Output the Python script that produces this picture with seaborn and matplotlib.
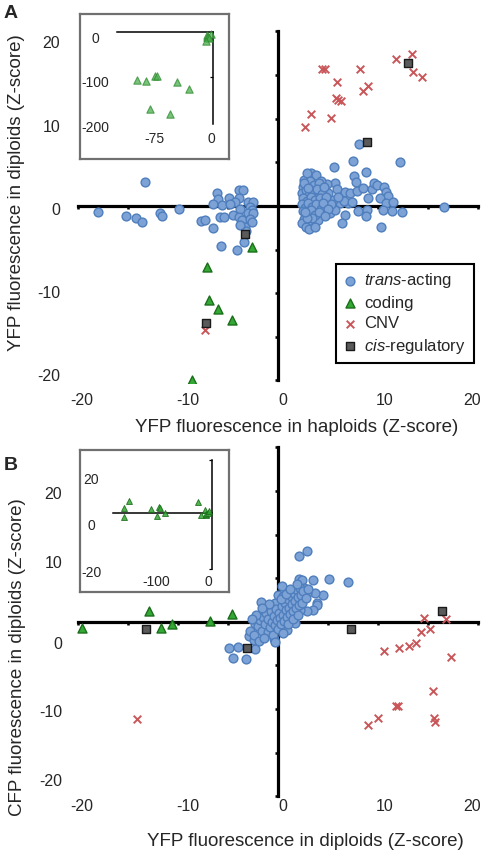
import numpy as np
import matplotlib
matplotlib.use('Agg')
import matplotlib.pyplot as plt
import seaborn as sns

W, H = 485, 857

# ---- panel A: YFP in haploids (x) vs YFP in diploids (y), Z-scores
a_trans = [
    (-18.0, -0.65), (-15.2, -1.2), (-14.2, -1.4), (-13.6, -1.8), (-13.3, 2.8), (-11.8, -0.8), (-11.6, -1.2),
    (-9.9, -0.4), (-7.7, -1.7), (-7.3, -1.6), (-6.5, -2.5), (-6.1, 1.45), (-6.0, 0.8), (-6.5, 0.2),
    (-5.6, 0.1), (-4.9, 0.9), (-5.8, -1.3), (-5.4, -1.3), (-4.5, -1.0), (-3.9, 1.8), (-3.5, 1.8),
    (-3.9, 0.9), (-4.3, 0.4), (-4.8, 0.2), (-3.8, -0.3), (-3.0, 0.5), (-2.5, 0.4), (-2.8, -0.1),
    (-2.6, -0.5), (-3.0, -0.8), (-2.5, -0.8), (-3.9, -1.3), (-3.6, -1.6), (-2.8, -1.5), (-3.3, -2.4),
    (-3.2, -2.9), (-3.4, -4.1), (-5.7, -4.6), (-4.1, -5.0), (-2.6, -1.8), (-3.8, -2.2),
    (5.6, 4.5), (7.5, 5.1), (12.2, 5.0), (3.3, 3.75), (3.8, 3.6), (7.6, 3.4), (8.8, 3.9), (7.8, 2.7),
    (5.7, 2.6), (4.9, 2.5), (5.9, 1.9), (6.7, 1.6), (7.2, 1.45), (7.9, 1.7), (8.5, 2.0), (9.4, 1.9),
    (9.6, 2.6), (9.9, 2.4), (10.6, 2.2), (10.8, 1.6), (11.0, 1.1), (9.0, 0.95), (10.2, 0.9), (10.8, 0.3),
    (11.5, 0.4), (8.0, -0.6), (8.9, -0.5), (8.8, -1.1), (10.5, -0.5), (11.4, -0.6), (12.4, -0.7),
    (6.7, -1.0), (6.4, -1.9), (10.3, -2.4), (7.0, 0.3), (6.2, 0.3), (5.5, 0.7), (5.2, -0.8), (5.7, -0.45),
    (8.1, 7.1), (16.6, -0.1), (6.6, 0.6), (7.4, 0.5), (6.0, 1.0), (4.6, -0.5), (5.0, 1.5), (4.3, 2.9),
    (4.0, -1.6), (5.3, 0.2),
    (2.6, 3.0), (2.9, 3.8), (2.5, 2.2), (2.9, 2.5), (3.2, 2.9), (3.6, 2.4), (4.1, 2.6), (2.4, 1.5),
    (2.8, 1.8), (3.1, 1.3), (3.5, 1.7), (3.9, 1.9), (4.4, 1.4), (2.5, 0.9), (2.9, 0.6), (3.3, 1.0),
    (3.7, 0.7), (4.2, 0.9), (2.4, 0.2), (2.7, -0.2), (3.0, 0.3), (3.4, -0.1), (3.8, 0.2), (4.3, -0.3),
    (2.5, -0.6), (2.9, -0.9), (3.3, -0.5), (3.7, -1.0), (4.1, -0.7), (2.6, -1.5), (3.0, -1.8),
    (3.4, -1.4), (2.4, -2.0), (2.8, -2.4), (3.1, -2.6), (3.7, -2.4), (2.6, 2.6), (3.0, 2.0), (4.6, 2.2),
    (4.8, 1.0), (4.5, 0.3), (5.0, -0.4), (4.7, -1.2), (2.9, -1.4), (2.7, -0.65),
]
# coding mutations: the last eight are only visible in the zoomed-out inset
a_coding = [
    (-2.6, -4.7), (-7.1, -7.0), (-6.9, -10.8), (-6.0, -11.85), (-4.6, -13.1), (-8.6, -19.9),
    (-94.6, -106.7), (-84.0, -108.0), (-72.5, -97.8), (-69.6, -97.8), (-45.4, -111.8),
    (-30.0, -126.7), (-78.8, -171.8), (-53.8, -182.2),
]
a_cnv = [
    (2.7, 9.1), (3.3, 10.55), (5.3, 10.05), (4.4, 15.7), (4.7, 15.7), (5.9, 14.25), (6.0, 12.15),
    (6.3, 12.0), (5.8, 12.4), (8.2, 15.7), (8.5, 13.2), (9.0, 13.8), (11.8, 16.8), (13.4, 17.4),
    (13.5, 15.3), (14.4, 14.75), (-7.3, -14.2),
]
a_cis = [(13.0, 16.4), (8.9, 7.3), (-3.3, -3.25), (-7.2, -13.4)]

# ---- panel B: YFP in diploids (x) vs CFP in diploids (y), Z-scores
b_trans = [
    (-4.9, -3.0), (-4.0, -2.9), (-2.3, -3.1), (-4.5, -4.2), (-3.2, -4.3), (-2.9, -1.6), (-2.4, -2.1),
    (-2.3, -0.3), (-2.8, -1.1), (-1.7, 2.3), (-1.0, 1.75), (-0.3, 2.1), (0.0, 3.1), (0.4, 4.1),
    (0.7, 3.1), (0.5, 3.0), (2.1, 4.9), (2.4, 4.8), (3.5, 4.8), (5.1, 4.9), (7.0, 4.6), (2.1, 7.6),
    (2.9, 8.1), (4.5, 3.1), (3.7, 3.3), (2.9, 3.3), (3.9, 2.1), (3.9, 1.95), (3.5, 1.4), (2.9, 1.2),
    (2.6, 3.9), (1.7, 2.5), (2.2, 1.4), (1.7, -0.15), (0.9, -0.9), (-0.4, -2.0),
    (-2.0, -0.5), (-1.8, 0.2), (-1.6, -1.0), (-1.5, 0.6), (-1.3, -0.3), (-1.2, 1.0), (-1.0, -1.2),
    (-1.0, 0.3), (-0.8, -0.6), (-0.7, 1.2), (-0.6, 0.0), (-0.5, -1.5), (-0.4, 0.7), (-0.3, -0.4),
    (-0.2, 1.5), (-0.1, 0.2), (0.0, -0.8), (0.1, 1.0), (0.2, 0.4), (0.3, -0.2), (0.4, 1.8), (0.5, 0.8),
    (0.6, 0.1), (0.7, 2.2), (0.8, 1.3), (0.9, 0.5), (1.0, 2.6), (1.1, 1.6), (1.2, 0.9), (1.3, 3.0),
    (1.4, 2.0), (1.5, 1.2), (1.6, 3.3), (1.7, 2.4), (1.8, 1.6), (1.9, 3.6), (2.0, 2.8), (2.1, 1.9),
    (2.2, 3.9), (2.3, 3.1), (2.4, 2.2), (2.5, 3.5), (1.0, -0.3), (1.5, 0.3), (2.0, 0.8), (-2.4, -1.5),
    (-2.2, 0.8), (-1.9, -2.2), (-1.4, -1.8), (0.3, 2.6), (0.8, 3.2), (1.2, 3.8), (-0.9, 2.0),
    (-1.6, 1.6), (0.5, -1.3), (-0.3, -2.3), (2.8, 2.7), (3.0, 3.8), (1.9, 4.3), (-2.6, 0.3),
]
b_coding = [
    (-19.6, -0.7), (-12.9, 1.2), (-11.7, -0.7), (-10.6, -0.3), (-6.8, 0.15), (-4.6, 0.9),
    (-160, 2.3), (-160, -1.8), (-151, 5.5), (-111, 1.8), (-100, -1.4), (-96, 2.7), (-94.5, 2.3),
    (-85.5, 0.0), (-25.5, 5.0),
]
b_cnv = [
    (-14.1, -11.1), (14.6, 0.4), (16.8, 0.35), (14.3, -1.2), (15.2, -0.85), (13.8, -2.4), (13.1, -2.75),
    (12.1, -3.0), (10.6, -3.4), (17.3, -4.0), (15.5, -7.9), (11.8, -9.6), (12.0, -9.7), (10.0, -11.0),
    (9.0, -11.8), (15.6, -11.0), (15.7, -11.5),
]
b_cis = [(-13.2, -0.85), (-3.1, -3.0), (7.3, -0.8), (16.4, 1.2)]

main_ticks = [-20, -15, -10, -5, 0, 5, 10, 15, 20]
main_labels = ['-20', '-10', '0', '10', '20']

C_BLUE, C_BLUE_E = '#7DA2D6', '#4F7EBD'
C_GREEN, C_GREEN_E = '#34A834', '#1B6E1B'
C_RED = '#C9575A'
C_GRAY, C_GRAY_E = '#5A5A5A', '#1A1A1A'

sns.set_style('white')
plt.rcParams['font.family'] = ['Liberation Sans', 'DejaVu Sans']
plt.rcParams['axes.unicode_minus'] = False
plt.rcParams['mathtext.fontset'] = 'custom'
plt.rcParams['mathtext.rm'] = 'Liberation Sans'
plt.rcParams['mathtext.it'] = 'Liberation Sans:italic'

fig = plt.figure(figsize=(W / 100, H / 100), dpi=100)


def px_axes(l, t, r, b):
    return fig.add_axes([l / W, 1 - b / H, (r - l) / W, (b - t) / H])


def cross_lines(ax, vside, hside, xb, yb, xt, yt, lw, tlen, tdir):
    for s in ax.spines.values():
        s.set_visible(False)
    for side, bounds in ((vside, yb), (hside, xb)):
        sp = ax.spines[side]
        sp.set_visible(True)
        sp.set_position(('data', 0))
        sp.set_bounds(*bounds)
        sp.set_linewidth(lw)
        sp.set_color('black')
        sp.set_zorder(2)
    ax.yaxis.set_ticks_position(vside)
    ax.xaxis.set_ticks_position(hside)
    ax.set_xticks(xt)
    ax.set_yticks(yt)
    ax.tick_params(length=tlen, width=lw * 0.8, direction=tdir, color='black',
                   labelleft=False, labelright=False, labeltop=False, labelbottom=False)
    ax.set_facecolor('none')


def tick_text(ax, xpos, xlab, ypos, ylab, size, xpad, ypad, center=False):
    ident = (lambda v: v, lambda v: v)
    sx = ax.secondary_xaxis(0, functions=ident)
    sy = ax.secondary_yaxis(0, functions=ident)
    for sec in (sx, sy):
        for s in sec.spines.values():
            s.set_visible(False)
    sx.set_xticks(xpos, xlab)
    sx.tick_params(length=0, pad=xpad, labelsize=size)
    sy.set_yticks(ypos, ylab)
    sy.tick_params(length=0, pad=ypad, labelsize=size)
    if center:
        for lab in sy.get_yticklabels():
            lab.set_horizontalalignment('center')


def scatter_groups(ax, groups):
    for pts, kw in groups:
        arr = np.array(pts)
        sns.scatterplot(x=arr[:, 0], y=arr[:, 1], ax=ax, zorder=3, **kw)


styles = {
    'trans': dict(marker='o', s=40, color=C_BLUE, edgecolor=C_BLUE_E, linewidth=1.0,
                  label=r'$\mathit{trans}$-acting'),
    'coding': dict(marker='^', s=42, color=C_GREEN, edgecolor=C_GREEN_E, linewidth=1.0,
                   label='coding'),
    'cnv': dict(marker='x', s=30, color=C_RED, linewidth=1.4, label='CNV'),
    'cis': dict(marker='s', s=34, color=C_GRAY, edgecolor=C_GRAY_E, linewidth=1.0,
                label=r'$\mathit{cis}$-regulatory'),
}

# ================= panel A =================
axA = px_axes(76, 28, 482, 383)
scatter_groups(axA, [(a_trans, styles['trans']), (a_coding, styles['coding']),
                     (a_cnv, styles['cnv']), (a_cis, styles['cis'])])
axA.set_xlim(-20.2, 20.4)
axA.set_ylim(-20.3, 20.4)
cross_lines(axA, 'left', 'bottom', (-20, 20), (-20, 20), main_ticks, main_ticks, 2.3, 2.5, 'out')
# label positions follow the original figure, where they sit slightly off the tick marks
tick_text(axA, [-19.6, -9.0, 0.5, 10.7, 19.4], main_labels,
          [18.8, 9.2, -0.3, -9.9, -19.4], main_labels[::-1], 11.5, 7, 11.5)
leg = axA.legend(loc='upper left', bbox_to_anchor=(336 / W, 1 - 264 / H - 0.01, 138 / W, 0.01),
                 bbox_transform=fig.transFigure, mode='expand', borderaxespad=0,
                 fontsize=12, frameon=True, fancybox=False, framealpha=1, edgecolor='black',
                 borderpad=0.45, labelspacing=0.32, handlelength=0.75, handletextpad=0.5)
leg.get_frame().set_linewidth(1.5)

# ================= panel B =================
axB = px_axes(76, 443, 482, 798)
scatter_groups(axB, [(b_trans, styles['trans']), (b_coding, styles['coding']),
                     (b_cnv, styles['cnv']), (b_cis, styles['cis'])])
axB.set_xlim(-20.2, 20.4)
axB.set_ylim(-20.2, 20.5)
cross_lines(axB, 'left', 'bottom', (-20, 20), (-20, 20), main_ticks, main_ticks, 2.3, 2.5, 'out')
tick_text(axB, [-19.6, -9.0, 0.5, 10.7, 19.4], main_labels,
          [14.8, 6.9, -2.4, -10.2, -18.1], main_labels[::-1], 11.5, 1, 10)
if axB.get_legend():
    axB.get_legend().remove()

# ================= insets =================
for (l, t, r, b) in [(80, 14, 229, 159), (80, 450, 229, 592)]:
    frame = px_axes(l, t, r, b)
    frame.set_xticks([])
    frame.set_yticks([])
    frame.set_facecolor('white')
    for s in frame.spines.values():
        s.set_visible(True)
        s.set_color('#707070')
        s.set_linewidth(1.6)

inA = px_axes(115, 26, 220, 128)
arr = np.array(a_coding)
sns.scatterplot(x=arr[:, 0], y=arr[:, 1], ax=inA, marker='^', s=28, color='#4CAF50',
                alpha=0.75, edgecolor='#2E8B2E', linewidth=0.8, zorder=3)
inA.set_xlim(-122.5, 8.75)
inA.set_ylim(-213.3, 13.3)
cross_lines(inA, 'right', 'top', (-120, 0), (-205, 0), [], [-100], 1.1, 2.5, 'in')
tick_text(inA, [-73.75, -2.5], ['-75', '0'], [-13.3, -111, -211], ['0', '-100', '-200'],
          10, 3, 14, center=True)

inB = px_axes(111, 456, 218, 574)
arr = np.array(b_coding)
sns.scatterplot(x=arr[:, 0], y=arr[:, 1], ax=inB, marker='^', s=18, color=C_GREEN,
                alpha=0.85, edgecolor=C_GREEN_E, linewidth=0.7, zorder=3)
inB.set_xlim(-183.6, 10.9)
inB.set_ylim(-27.7, 25.9)
cross_lines(inB, 'right', 'top', (-180, 0), (-25.5, 24), [], [-25.5, 24], 1.1, 2.5, 'in')
tick_text(inB, [-101.8, -7.3], ['-100', '0'], [15.9, -5, -26.4], ['20', '0', '-20'],
          10, 1, 14, center=True)

# ================= titles and panel letters =================
fs = 13.5
fig.text(17 / W, 1 - 193 / H, 'YFP fluorescence in diploids (Z-score)', rotation=90,
         ha='center', va='center', fontsize=fs)
fig.text(297 / W, 1 - 428 / H, 'YFP fluorescence in haploids (Z-score)',
         ha='center', va='center', fontsize=fs)
fig.text(18 / W, 1 - 657 / H, 'CFP fluorescence in diploids (Z-score)', rotation=90,
         ha='center', va='center', fontsize=fs)
fig.text(305 / W, 1 - 841 / H, 'YFP fluorescence in diploids (Z-score)',
         ha='center', va='center', fontsize=fs)
fig.text(4 / W, 1 - 5 / H, 'A', ha='left', va='top', fontsize=14, fontweight='bold')
fig.text(4 / W, 1 - 457 / H, 'B', ha='left', va='top', fontsize=14, fontweight='bold')

fig.savefig('out.png', dpi=100)
plt.close(fig)
